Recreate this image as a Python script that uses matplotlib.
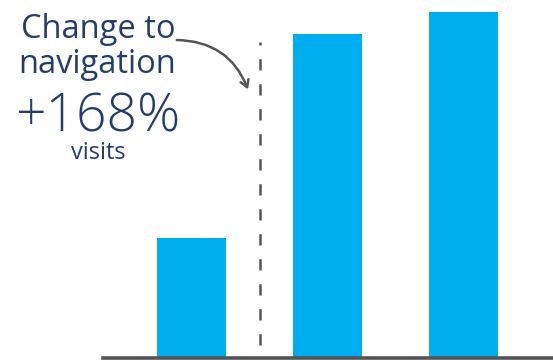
import matplotlib.pyplot as plt

periods = ["Before", "After 1", "After 2"]
visits = [120, 324, 346]

text_color = "#263d6b"
line_color = "#555555"
bar_color = "#00aeef"

W, H = 553, 360
fig = plt.figure(figsize=(W / 100, H / 100), dpi=100)
# axes fill the area right of x=103px, down to the baseline
ax = fig.add_axes([103 / W, 2 / H, 1 - 103 / W, 1 - 2 / H])

x = list(range(len(periods)))
ax.bar(x, visits, width=0.507, color=bar_color)
ax.set_xlim(-0.651, 2.658)
ax.set_ylim(0, 358)

# dashed marker between first and second bar
ax.vlines(0.5, 13, 316, colors=line_color, linestyles=(0, (4.5, 5.5)), linewidth=1.8)

for s in ["top", "right", "left"]:
    ax.spines[s].set_visible(False)
ax.spines["bottom"].set_color(line_color)
ax.spines["bottom"].set_linewidth(2.6)
ax.set_xticks([])
ax.set_yticks([])

def fx(px):
    return px / W

def fy(py):
    return 1 - py / H

font = "Open Sans"
fig.text(fx(98), fy(38), "Change to", ha="center", va="baseline",
         fontsize=23.5, color=text_color, family=font)
fig.text(fx(97), fy(73), "navigation", ha="center", va="baseline",
         fontsize=23.5, color=text_color, family=font)
fig.text(fx(98), fy(132), "+168%", ha="center", va="baseline",
         fontsize=38.5, color=text_color, family=font, fontweight="light")
fig.text(fx(98), fy(159), "visits", ha="center", va="baseline",
         fontsize=17, color=text_color, family=font)

fig.add_artist(plt.matplotlib.patches.FancyArrowPatch(
    (fx(174), fy(40)), (fx(249), fy(92)), transform=fig.transFigure,
    connectionstyle="arc3,rad=-0.35", arrowstyle="->,head_length=5,head_width=3",
    color=line_color, linewidth=1.8))

fig.savefig("out.png", dpi=100)
